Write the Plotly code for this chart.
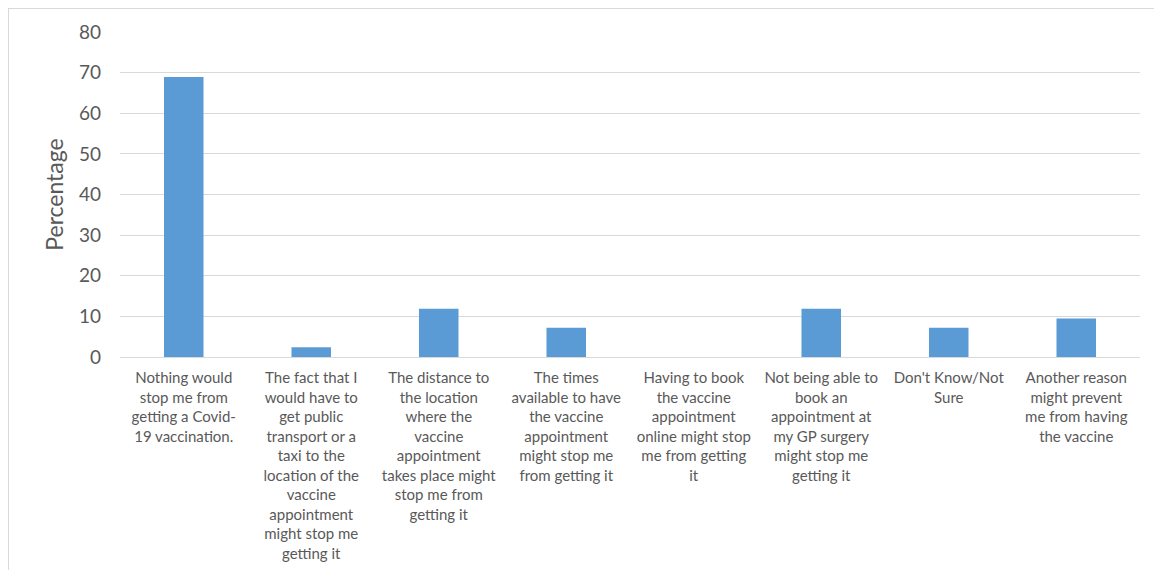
import plotly.graph_objects as go

categories = [
    "Nothing would<br>stop me from<br>getting a Covid-<br>19 vaccination.",
    "The fact that I<br>would have to<br>get public<br>transport or a<br>taxi to the<br>location of the<br>vaccine<br>appointment<br>might stop me<br>getting it",
    "The distance to<br>the location<br>where the<br>vaccine<br>appointment<br>takes place might<br>stop me from<br>getting it",
    "The times<br>available to have<br>the vaccine<br>appointment<br>might stop me<br>from getting it",
    "Having to book<br>the vaccine<br>appointment<br>online might stop<br>me from getting<br>it",
    "Not being able to<br>book an<br>appointment at<br>my GP surgery<br>might stop me<br>getting it",
    "Don't Know/Not<br>Sure",
    "Another reason<br>might prevent<br>me from having<br>the vaccine",
]
values = [68.9, 2.4, 11.9, 7.2, 0, 11.9, 7.2, 9.5]
y_ticks = [0, 10, 20, 30, 40, 50, 60, 70, 80]

FONT = "Lato"
fig = go.Figure(go.Bar(x=list(range(len(categories))), y=values,
                       marker=dict(color="#5b9bd5", line=dict(width=0)),
                       width=0.31))

L, T, PW, PH = 112, 24, 1020, 325
fig.update_layout(
    width=1162, height=570,
    margin=dict(l=L, r=1162 - L - PW, t=T, b=570 - T - PH),
    paper_bgcolor="white", plot_bgcolor="white",
    showlegend=False,
    font=dict(family=FONT, color="#595959"),
)
fig.update_xaxes(
    tickmode="array", tickvals=list(range(len(categories))), ticktext=categories,
    range=[-0.5, len(categories) - 0.5], automargin=False,
    tickfont=dict(size=15, family=FONT, color="#595959"),
    showline=False, showgrid=False, ticks="", tickangle=0, ticklabelstandoff=10,
)
fig.update_yaxes(
    range=[0, 80], tickvals=y_ticks, automargin=False,
    tickfont=dict(size=19, family=FONT, color="#595959"),
    showgrid=True, gridcolor="#d9d9d9", gridwidth=1,
    zeroline=True, zerolinecolor="#d9d9d9", zerolinewidth=1,
    showline=False, ticks="", ticklabelstandoff=18,
    title=dict(text="Percentage", font=dict(size=23, family=FONT, color="#595959"), standoff=8),
)
fig.add_shape(type="rect", xref="paper", yref="paper",
              x0=-L / PW, x1=(1175 - L) / PW,
              y0=-(570 - T - PH + 30) / PH, y1=1 + T / PH,
              line=dict(color="#d9d9d9", width=2), fillcolor="rgba(0,0,0,0)", layer="below")

fig.write_html("out.html")
